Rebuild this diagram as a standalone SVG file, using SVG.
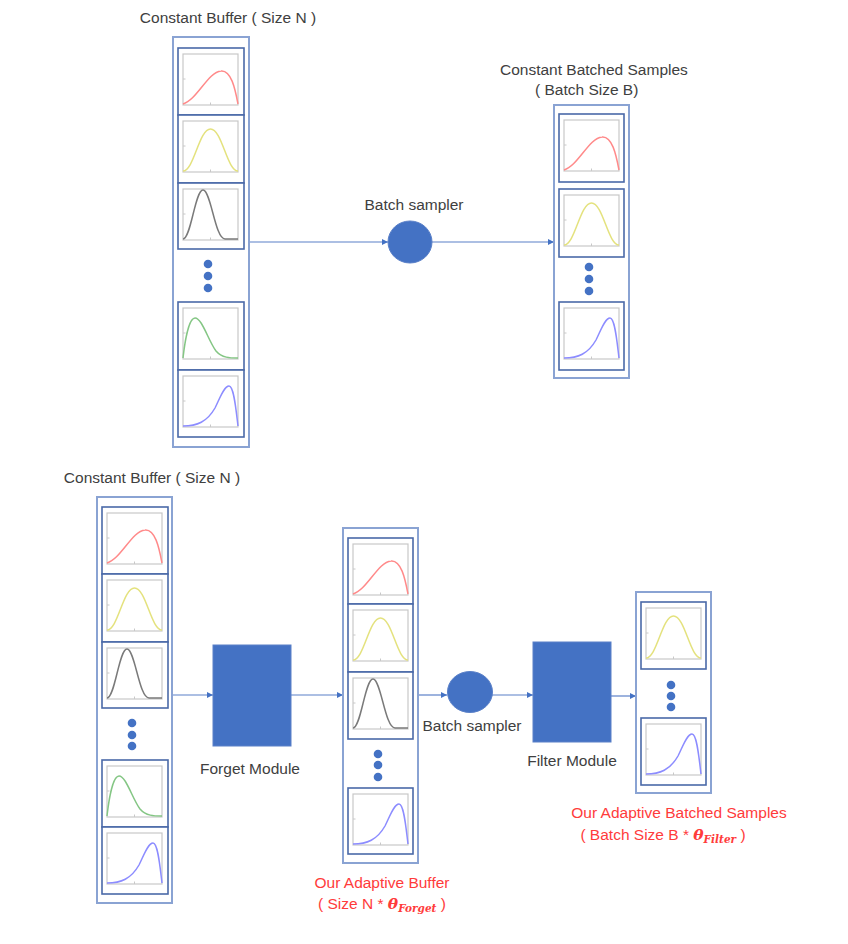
<svg xmlns="http://www.w3.org/2000/svg" xmlns:xlink="http://www.w3.org/1999/xlink" width="848" height="944" viewBox="0 0 848 944">
<style>
  .outer{fill:none;stroke:#8aa3d3;stroke-width:2}
  .cell{fill:#fff;stroke:#4a69a8;stroke-width:1.6}
  .plot{fill:#fff;stroke:#c8c8c8;stroke-width:1.2}
  .curve{fill:none;stroke-width:1.5}
  .dot{fill:#4472c4}
  .mod{fill:#4472c4;stroke:#5a80c8;stroke-width:1}
  .lbl{font-family:"Liberation Sans","Noto Sans",Arial,sans-serif;font-size:15.5px;fill:#404040}
  .red{font-family:"Liberation Sans","Noto Sans",Arial,sans-serif;font-size:15.5px;fill:#ff3b3b}
  .math{font-family:"DejaVu Serif","Liberation Serif",serif;font-style:italic;font-weight:bold}
  .conn{stroke:#5b80c8;stroke-width:1.2;fill:none}
</style>
<defs>
  <marker id="arr" viewBox="0 0 10 10" refX="10" refY="5" markerWidth="6" markerHeight="6" orient="auto" markerUnits="userSpaceOnUse">
    <path d="M0,0 L10,5 L0,10 z" fill="#4472c4"/>
  </marker>
  <g id="box">
    <rect class="plot" x="0" y="0" width="55" height="51"/>
    <line x1="27.5" y1="51" x2="27.5" y2="48.5" stroke="#c8c8c8"/>
    <line x1="0" y1="25" x2="2.5" y2="25" stroke="#c8c8c8"/>
  </g>
  <g id="pRed"><use xlink:href="#box"/><path class="curve" stroke="#ff8a8a" d="M0,50 C14,46 25,18 38,17 C48,16 52,34 55,50"/></g>
  <g id="pYel"><use xlink:href="#box"/><path class="curve" stroke="#e4e27e" d="M0,50 C11,50 16,8 27.5,8 C39,8 44,50 55,50"/></g>
  <g id="pGry"><use xlink:href="#box"/><path class="curve" stroke="#7a7a7a" d="M0,50 C8,50 12,1 20,1 C28,1 32,50 42,50 L55,50"/></g>
  <g id="pGrn"><use xlink:href="#box"/><path class="curve" stroke="#84c684" d="M0,50 C2,32 6,10 12,10 C19,10 25,32 33,43 C39,50 47,50 55,50"/></g>
  <g id="pBlu"><use xlink:href="#box"/><path class="curve" stroke="#8c8cff" d="M0,50 C14,50 24,46 32,32 C37,22 41,10 46,10 C51,10 53,34 55,50"/></g>
</defs>
<rect width="848" height="944" fill="#fff"/>

<g id="connectors">
  <line class="conn" x1="249" y1="242" x2="388" y2="242" marker-end="url(#arr)"/>
  <line class="conn" x1="432" y1="242" x2="554" y2="242" marker-end="url(#arr)"/>
  <line class="conn" x1="172" y1="695" x2="213" y2="695" marker-end="url(#arr)"/>
  <line class="conn" x1="291" y1="695" x2="343" y2="695" marker-end="url(#arr)"/>
  <line class="conn" x1="418" y1="695" x2="447" y2="695" marker-end="url(#arr)"/>
  <line class="conn" x1="492" y1="695" x2="533" y2="695" marker-end="url(#arr)"/>
  <line class="conn" x1="611" y1="696" x2="636" y2="696" marker-end="url(#arr)"/>
</g>

<g id="top-buffer">
  <text class="lbl" x="228" y="23" text-anchor="middle">Constant Buffer ( Size N )</text>
  <rect class="outer" x="173" y="37" width="76" height="410"/>
  <rect class="cell" x="178" y="48" width="66" height="67"/><use xlink:href="#pRed" x="183" y="54"/>
  <rect class="cell" x="178" y="115" width="66" height="68"/><use xlink:href="#pYel" x="183" y="121"/>
  <rect class="cell" x="178" y="183" width="66" height="66"/><use xlink:href="#pGry" x="183" y="189"/>
  <circle class="dot" cx="208" cy="264" r="4.3"/><circle class="dot" cx="208" cy="276" r="4.3"/><circle class="dot" cx="208" cy="288" r="4.3"/>
  <rect class="cell" x="178" y="302" width="66" height="68"/><use xlink:href="#pGrn" x="183" y="308"/>
  <rect class="cell" x="178" y="370" width="66" height="67"/><use xlink:href="#pBlu" x="183" y="376"/>
</g>

<g id="top-sampler">
  <text class="lbl" x="414" y="210" text-anchor="middle">Batch sampler</text>
  <ellipse class="mod" cx="410" cy="242" rx="22" ry="21"/>
</g>

<g id="top-batch">
  <text class="lbl" x="500" y="75">Constant Batched Samples</text>
  <text class="lbl" x="535" y="95">( Batch Size B)</text>
  <rect class="outer" x="554" y="105" width="75" height="273"/>
  <rect class="cell" x="559" y="114" width="65" height="68"/><use xlink:href="#pRed" x="564" y="120"/>
  <rect class="cell" x="559" y="189" width="65" height="68"/><use xlink:href="#pYel" x="564" y="195"/>
  <circle class="dot" cx="589" cy="267" r="4.3"/><circle class="dot" cx="589" cy="279" r="4.3"/><circle class="dot" cx="589" cy="291" r="4.3"/>
  <rect class="cell" x="559" y="302" width="65" height="68"/><use xlink:href="#pBlu" x="564" y="308"/>
</g>

<g id="bottom-buffer">
  <text class="lbl" x="152" y="483" text-anchor="middle">Constant Buffer ( Size N )</text>
  <rect class="outer" x="97" y="497" width="75" height="406"/>
  <rect class="cell" x="102" y="507" width="66" height="67"/><use xlink:href="#pRed" x="107" y="513"/>
  <rect class="cell" x="102" y="574" width="66" height="68"/><use xlink:href="#pYel" x="107" y="580"/>
  <rect class="cell" x="102" y="642" width="66" height="66"/><use xlink:href="#pGry" x="107" y="648"/>
  <circle class="dot" cx="132" cy="723" r="4.3"/><circle class="dot" cx="132" cy="735" r="4.3"/><circle class="dot" cx="132" cy="746" r="4.3"/>
  <rect class="cell" x="102" y="760" width="66" height="67"/><use xlink:href="#pGrn" x="107" y="766"/>
  <rect class="cell" x="102" y="827" width="66" height="67"/><use xlink:href="#pBlu" x="107" y="833"/>
</g>

<g id="forget-module">
  <rect class="mod" x="213" y="645" width="78" height="101"/>
  <text class="lbl" x="250" y="774" text-anchor="middle">Forget Module</text>
</g>

<g id="adaptive-buffer">
  <rect class="outer" x="343" y="528" width="75" height="335"/>
  <rect class="cell" x="348" y="538" width="65" height="66"/><use xlink:href="#pRed" x="353" y="544"/>
  <rect class="cell" x="348" y="604" width="65" height="68"/><use xlink:href="#pYel" x="353" y="610"/>
  <rect class="cell" x="348" y="672" width="65" height="67"/><use xlink:href="#pGry" x="353" y="678"/>
  <circle class="dot" cx="378" cy="754" r="4.3"/><circle class="dot" cx="378" cy="765" r="4.3"/><circle class="dot" cx="378" cy="777" r="4.3"/>
  <rect class="cell" x="348" y="788" width="65" height="66"/><use xlink:href="#pBlu" x="353" y="794"/>
  <text class="red" x="382" y="888" text-anchor="middle">Our Adaptive Buffer</text>
  <text class="red" x="382" y="909" text-anchor="middle">( Size N * <tspan class="math">θ</tspan><tspan class="math" font-size="10.5" dy="3">Forget</tspan><tspan dy="-3"> )</tspan></text>
</g>

<g id="bottom-sampler">
  <ellipse class="mod" cx="470" cy="692" rx="22.5" ry="20.5"/>
  <text class="lbl" x="472" y="731" text-anchor="middle">Batch sampler</text>
</g>

<g id="filter-module">
  <rect class="mod" x="533" y="642" width="78" height="100"/>
  <text class="lbl" x="572" y="766" text-anchor="middle">Filter Module</text>
</g>

<g id="adaptive-batch">
  <rect class="outer" x="636" y="592" width="75" height="201"/>
  <rect class="cell" x="641" y="602" width="65" height="67"/><use xlink:href="#pYel" x="646" y="608"/>
  <circle class="dot" cx="671" cy="685" r="4.3"/><circle class="dot" cx="671" cy="696" r="4.3"/><circle class="dot" cx="671" cy="707" r="4.3"/>
  <rect class="cell" x="641" y="718" width="65" height="67"/><use xlink:href="#pBlu" x="646" y="724"/>
  <text class="red" x="679" y="818" text-anchor="middle">Our Adaptive Batched Samples</text>
  <text class="red" x="663" y="840" text-anchor="middle">( Batch Size B * <tspan class="math">θ</tspan><tspan class="math" font-size="10.5" dy="3">Filter</tspan><tspan dy="-3"> )</tspan></text>
</g>
</svg>
